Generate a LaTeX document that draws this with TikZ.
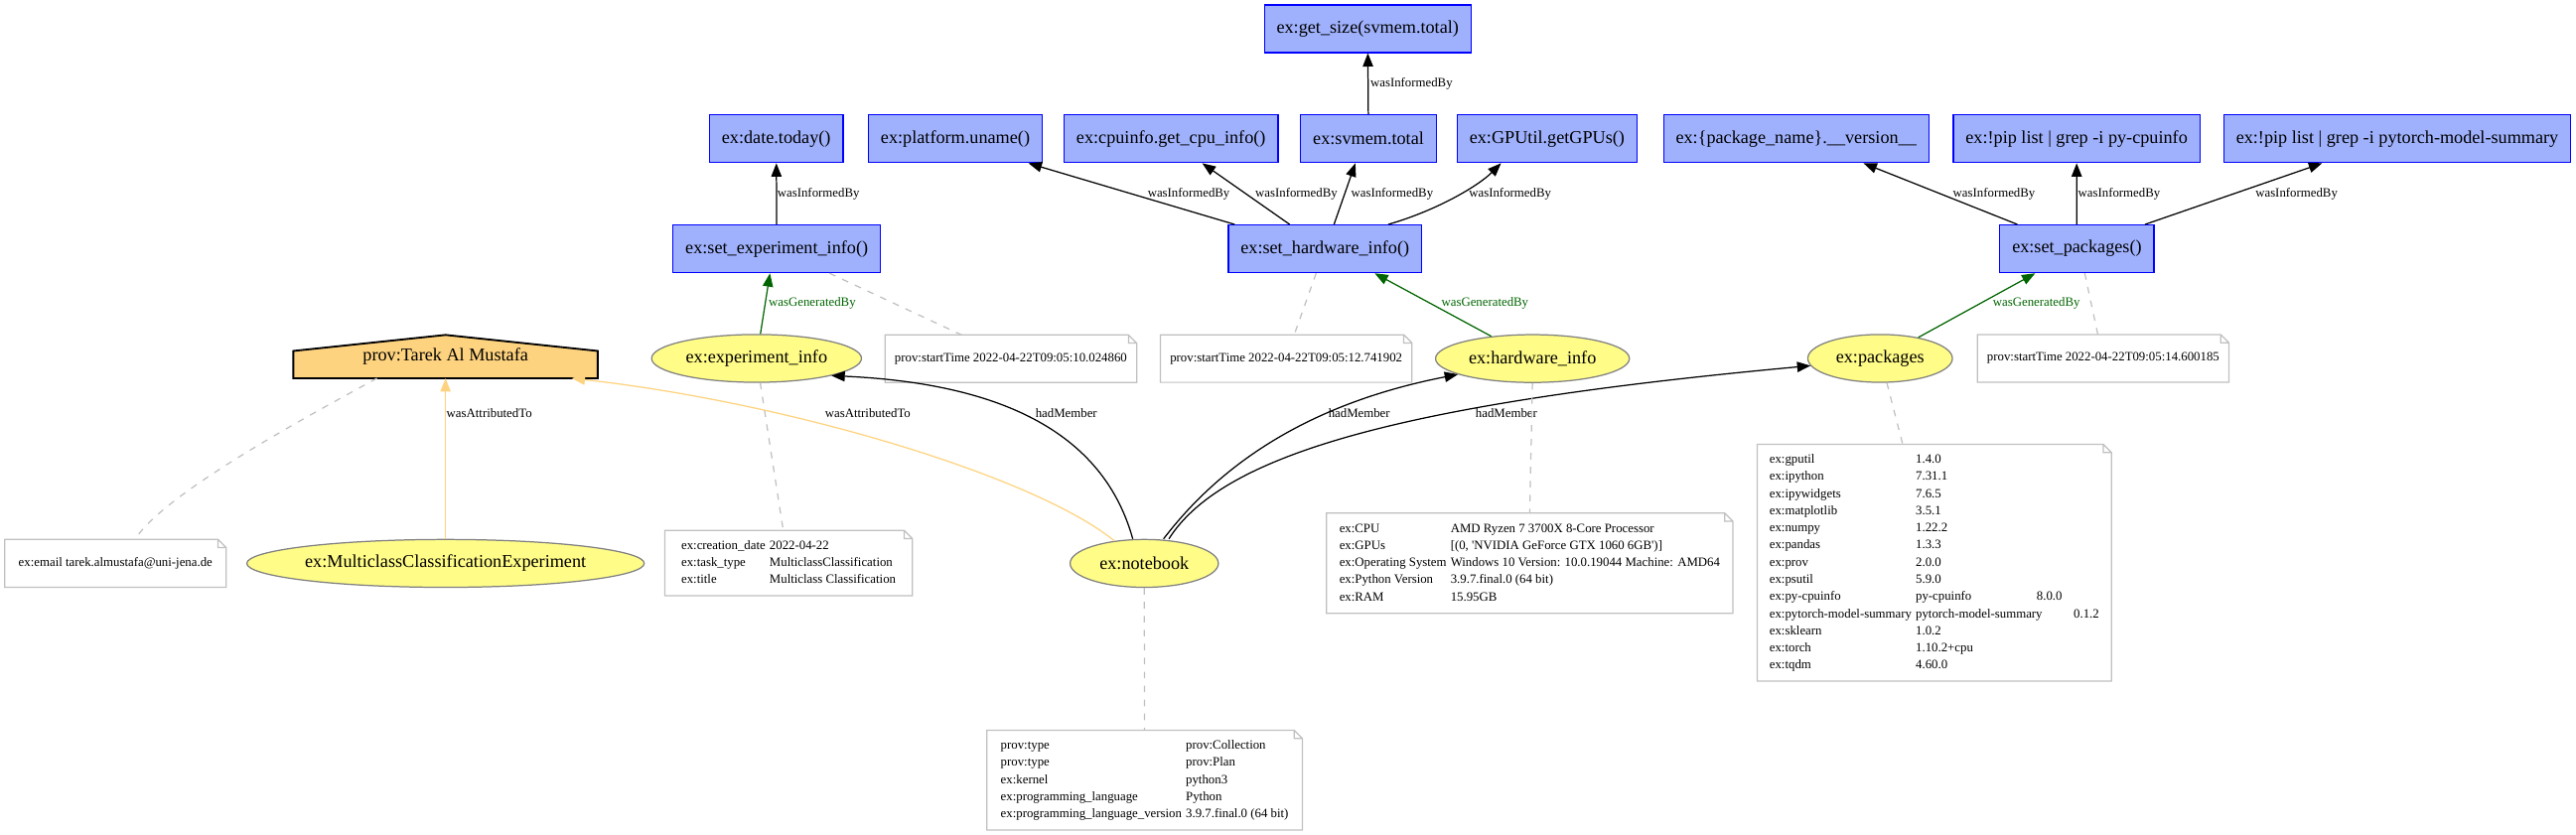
\documentclass[tikz,border=0pt]{standalone}
\usepackage{fontspec}
\setmainfont{Liberation Serif}
\usetikzlibrary{arrows.meta,shapes.geometric,backgrounds}
\definecolor{actfill}{HTML}{9FB1FC}
\definecolor{entfill}{HTML}{FFFC87}
\definecolor{agfill}{HTML}{FED37F}
\definecolor{notegrey}{HTML}{C0C0C0}
\definecolor{gengreen}{HTML}{006400}
\newcommand{\bigfont}{\fontsize{8.8}{10}\selectfont}
\newcommand{\smallfont}{\fontsize{6.2}{8.35}\selectfont}
\tikzset{
  activity/.style={draw=blue, fill=actfill, line width=0.6pt, font=\bigfont, inner xsep=6pt, minimum height=23.2pt},
  entity/.style={ellipse, draw=gray, fill=entfill, line width=0.6pt, font=\bigfont, inner sep=0pt, minimum height=23.3pt},
  agent/.style={font=\bigfont, inner sep=0pt, outer sep=0pt, minimum width=148.2pt, minimum height=21.1pt},
  note/.style={fill=white, font=\smallfont, inner sep=0pt, outer sep=0pt},
  lbl/.style={font=\smallfont, inner sep=0.3pt, anchor=west},
  tip/.style={-{Triangle[length=6.5pt,width=5pt]}},
  infoedge/.style={tip, line width=0.6pt},
  genedge/.style={tip, line width=0.6pt, draw=gengreen},
  attredge/.style={tip, line width=0.6pt, draw=agfill},
  annotline/.style={draw=notegrey, line width=0.6pt, dash pattern=on 3.2pt off 3.6pt},
}
\begin{document}
\begin{tikzpicture}[x=0.8pt, y=-0.8pt]
		\useasboundingbox (0,0) rectangle (1568,508);

		% Activities
		\node[activity] (getsize) at (832.5,17.5) {ex:get\_size(svmem.total)};
		\node[activity] (datetoday) at (472.5,84.5) {ex:date.today()};
		\node[activity] (uname) at (581.5,84.5) {ex:platform.uname()};
		\node[activity] (cpuinfo) at (712.8,84.5) {ex:cpuinfo.get\_cpu\_info()};
		\node[activity] (svmem) at (833,84.5) {ex:svmem.total};
		\node[activity] (gpus) at (941.7,84.5) {ex:GPUtil.getGPUs()};
		\node[activity] (pkgversion) at (1093.3,84.5) {ex:\{package\_name\}.\_\_version\_\_};
		\node[activity] (pipcpu) at (1264,84.5) {ex:!pip list | grep -i py-cpuinfo};
		\node[activity] (piptorch) at (1459.2,84.5) {ex:!pip list | grep -i pytorch-model-summary};
		\node[activity] (setexp) at (472.8,151.5) {ex:set\_experiment\_info()};
		\node[activity] (sethw) at (806.5,151.5) {ex:set\_hardware\_info()};
		\node[activity] (setpkg) at (1264.2,151.5) {ex:set\_packages()};

		% Entities
		\node[entity, minimum width=102.2pt] (expinfo) at (460.5,218.2) {ex:experiment\_info};
		\node[entity, minimum width=94.4pt] (hwinfo) at (932.8,218.3) {ex:hardware\_info};
		\node[entity, minimum width=70.4pt] (pkgs) at (1144.4,218.2) {ex:packages};
		\node[entity, minimum width=72.2pt] (nb) at (696.5,343) {ex:notebook};
		\node[entity, minimum width=189.8pt] (mcexp) at (271.2,343) {ex:MulticlassClassificationExperiment};

		% Agent
		\node[agent] (tarek) at (271.2,217.1) {prov:Tarek Al Mustafa};
		\begin{scope}[on background layer]
			\filldraw[fill=agfill, line width=0.9pt] (tarek.south west) -- ([yshift=-7.8pt]tarek.north west) -- (tarek.north) -- ([yshift=-7.8pt]tarek.north east) -- (tarek.south east) -- cycle;
		\end{scope}

		% Notes
		\node[note, minimum width=122.6pt, minimum height=23.2pt] (st1) at (615.3,218.4) {prov:startTime 2022-04-22T09:05:10.024860};
		\node[note, minimum width=122.5pt, minimum height=23.2pt] (st2) at (782.9,218.3) {prov:startTime 2022-04-22T09:05:12.741902};
		\node[note, minimum width=122.5pt, minimum height=23.2pt] (st3) at (1280.2,218.2) {prov:startTime 2022-04-22T09:05:14.600185};
		\node[note, minimum width=107.8pt, minimum height=23.3pt] (email) at (70.3,343) {ex:email tarek.almustafa@uni-jena.de};
		\node[note, minimum width=120.6pt, minimum height=31.8pt] (expnote) at (480,342.8) {\begin{tabular}{@{}l@{\hspace{2pt}}l@{}}
			ex:creation\_date & 2022-04-22\\
			ex:task\_type & MulticlassClassification\\
			ex:title & Multiclass Classification
		\end{tabular}};
		\node[note, minimum width=197.9pt, minimum height=48.9pt] (hwnote) at (931.1,342.9) {\begin{tabular}{@{}l@{\hspace{2pt}}l@{}}
			ex:CPU & AMD Ryzen 7 3700X 8-Core Processor\\
			ex:GPUs & [(0, \textquotesingle NVIDIA GeForce GTX 1060 6GB\textquotesingle)]\\
			ex:Operating System & Windows 10 Version: 10.0.19044 Machine: AMD64\\
			ex:Python Version & 3.9.7.final.0 (64 bit)\\
			ex:RAM & 15.95GB
		\end{tabular}};
		\node[note, minimum width=172.5pt, minimum height=115.4pt] (pkgnote) at (1177.4,342.6) {\begin{tabular}{@{}l@{\hspace{2pt}}l@{}}
			ex:gputil & 1.4.0\\
			ex:ipython & 7.31.1\\
			ex:ipywidgets & 7.6.5\\
			ex:matplotlib & 3.5.1\\
			ex:numpy & 1.22.2\\
			ex:pandas & 1.3.3\\
			ex:prov & 2.0.0\\
			ex:psutil & 5.9.0\\
			ex:py-cpuinfo & \makebox[58.9pt][l]{py-cpuinfo}8.0.0\\
			ex:pytorch-model-summary & \makebox[76.9pt][l]{pytorch-model-summary}0.1.2\\
			ex:sklearn & 1.0.2\\
			ex:torch & 1.10.2+cpu\\
			ex:tqdm & 4.60.0
		\end{tabular}};
		\node[note, minimum width=153.7pt, minimum height=48.6pt] (nbnote) at (696.7,475) {\begin{tabular}{@{}l@{\hspace{2pt}}l@{}}
			prov:type & prov:Collection\\
			prov:type & prov:Plan\\
			ex:kernel & python3\\
			ex:programming\_language & Python\\
			ex:programming\_language\_version & 3.9.7.final.0 (64 bit)
		\end{tabular}};
		\foreach \n in {st1,st2,st3,email,expnote,hwnote,pkgnote,nbnote}
			\draw[draw=notegrey, line width=0.6pt] (\n.south west) -- (\n.north west) -- ([xshift=-4pt]\n.north east) -- ([yshift=-4pt]\n.north east) -- (\n.south east) -- cycle
				([xshift=-4pt]\n.north east) |- ([yshift=-4pt]\n.north east);

		% wasInformedBy
		\draw[infoedge] (setexp) -- (datetoday);
		\draw[infoedge] ([xshift=-44pt]sethw.north) -- ([xshift=35.6pt]uname.south);
		\draw[infoedge] ([xshift=-17.2pt]sethw.north) -- ([xshift=15.2pt]cpuinfo.south);
		\draw[infoedge] ([xshift=4.4pt]sethw.north) -- ([xshift=-6.4pt]svmem.south);
		\draw[infoedge] ([xshift=30.8pt]sethw.north) .. controls (875,128) and (900,113) .. ([xshift=-22.4pt]gpus.south);
		\draw[infoedge] (svmem) -- (getsize);
		\draw[infoedge] ([xshift=-29pt]setpkg.north) -- ([xshift=32.8pt]pkgversion.south);
		\draw[infoedge] (setpkg) -- (pipcpu);
		\draw[infoedge] ([xshift=33.2pt]setpkg.north) -- ([xshift=-36.6pt]piptorch.south);
		\node[lbl] (l1) at (472.6,117.9) {wasInformedBy};
		\node[lbl] (l2) at (698,117.9) {wasInformedBy};
		\node[lbl] (l3) at (763.5,117.9) {wasInformedBy};
		\node[lbl] (l4) at (821.8,117.9) {wasInformedBy};
		\node[lbl] (l5) at (893.6,117.9) {wasInformedBy};
		\node[lbl] (l6) at (833.6,51) {wasInformedBy};
		\node[lbl] (l7) at (1188.2,118) {wasInformedBy};
		\node[lbl] (l8) at (1264.3,118) {wasInformedBy};
		\node[lbl] (l9) at (1372.3,118) {wasInformedBy};

		% wasGeneratedBy
		\draw[genedge] (expinfo) -- ([xshift=-3.3pt]setexp.south);
		\draw[genedge] (hwinfo) -- ([xshift=24.2pt]sethw.south);
		\draw[genedge] (pkgs) -- ([xshift=-20.3pt]setpkg.south);
		\node[lbl, text=gengreen] (g1) at (467.3,184.4) {wasGeneratedBy};
		\node[lbl, text=gengreen] (g2) at (876.8,184.4) {wasGeneratedBy};
		\node[lbl, text=gengreen] (g3) at (1212.5,184.4) {wasGeneratedBy};

		% hadMember
		\draw[infoedge] ([xshift=-5.6pt]nb.north) .. controls (670,258) and (600,233) .. (expinfo.-13);
		\draw[infoedge] ([xshift=9.4pt]nb.north) .. controls (745,280) and (800,245) .. (hwinfo.192);
		\draw[infoedge] ([xshift=12pt]nb.north) .. controls (745,275) and (860,245) .. (pkgs.186);
		\node[lbl] (m1) at (629.7,251.5) {hadMember};
		\node[lbl] (m2) at (808,251.3) {hadMember};
		\node[lbl] (m3) at (897.6,251.3) {hadMember};

		% wasAttributedTo
		\draw[attredge] (mcexp) -- (tarek);
		\draw[attredge] (nb.143) .. controls (630,290) and (480,245) .. ([xshift=61.4pt]tarek.south);
		\node[lbl] (a1) at (271.2,251.3) {wasAttributedTo};
		\node[lbl] (a2) at (501.6,251.3) {wasAttributedTo};

		% Annotations
		\draw[annotline] ([xshift=-33.4pt]tarek.south) .. controls (190,252) and (100,300) .. ([xshift=9.5pt]email.north);
		\draw[annotline] ([xshift=25.7pt]setexp.south) -- ([xshift=-24pt]st1.north);
		\draw[annotline] ([xshift=-4.3pt]sethw.south) -- ([xshift=3.9pt]st2.north);
		\draw[annotline] ([xshift=3.8pt]setpkg.south) -- ([xshift=-2.6pt]st3.north);
		\draw[annotline] ([xshift=1.8pt]expinfo.south) -- ([xshift=-2.6pt]expnote.north);
		\draw[annotline] (hwinfo.south) -- (hwnote.north);
		\draw[annotline] ([xshift=3.3pt]pkgs.south) -- ([xshift=-15.4pt]pkgnote.north);
		\draw[annotline] (nb.south) -- (nbnote.north);
	\end{tikzpicture}
\end{document}
